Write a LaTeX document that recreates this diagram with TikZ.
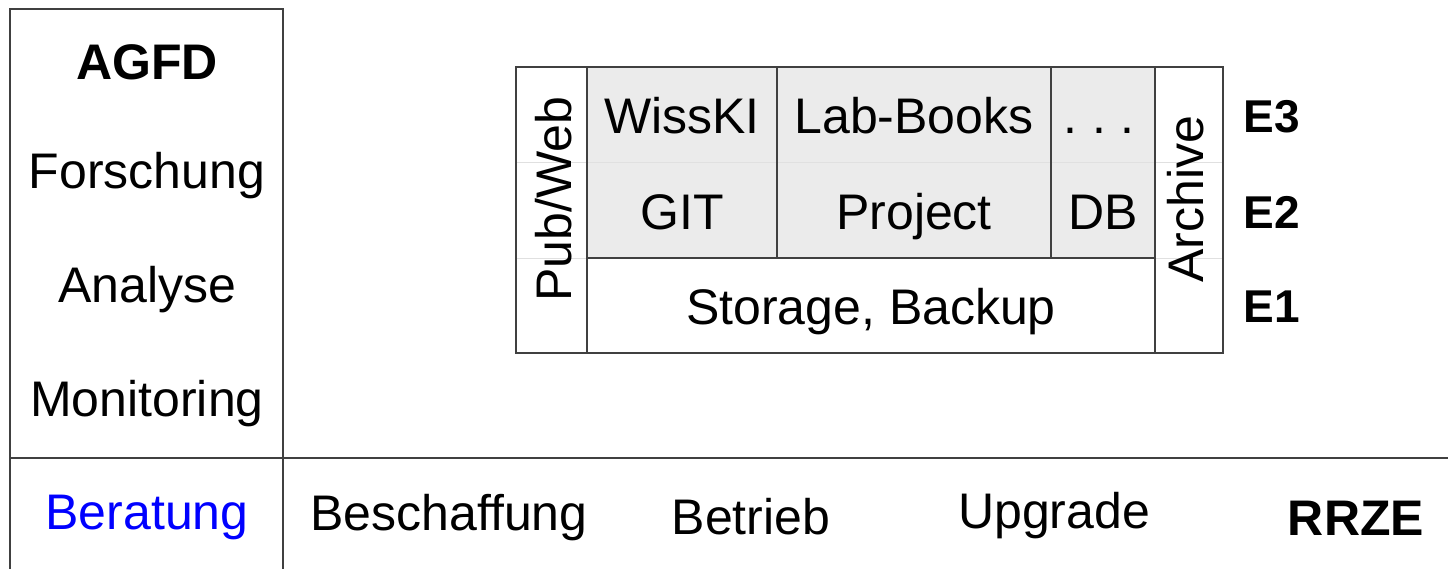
\documentclass[tikz,border=0pt]{standalone}
\usepackage{fontspec}
\setmainfont{Liberation Sans}
\begin{document}
\begin{tikzpicture}[x=1pt,y=-1pt,
  frame/.style={draw=black!75,line width=1.2pt},
  faint/.style={draw=black!12,line width=0.8pt},
  big/.style={inner sep=0pt,anchor=base,font=\fontsize{50}{60}\selectfont},
  bigb/.style={inner sep=0pt,anchor=base,font=\fontsize{50}{60}\selectfont\bfseries},
  elab/.style={inner sep=0pt,anchor=base,font=\fontsize{46}{55}\selectfont\bfseries}]
\useasboundingbox (0,0) rectangle (1448,569);
% left column and bottom band
\draw[frame] (10,569) -- (10,9) -- (283,9) -- (283,569);
\draw[frame] (10,458) -- (1448,458);
% grey block
\fill[black!8] (587,67) rectangle (1155,258);
\draw[faint] (587,162) -- (1155,162);
\draw[faint] (516,162) -- (587,162) (516,258) -- (587,258);
\draw[faint] (1155,162) -- (1223,162) (1155,258) -- (1223,258);
\draw[frame] (777,67) -- (777,258) (1051,67) -- (1051,258);
\draw[frame] (587,258) -- (1155,258);
\draw[frame] (516,67) rectangle (587,353);
\draw[frame] (587,67) rectangle (1155,353);
\draw[frame] (1155,67) rectangle (1223,353);
% left texts
\node[bigb] (agfd) at (147,80) {AGFD};
\node[big] (forsch) at (147,189) {Forschung};
\node[big] (analyse) at (147,302) {Analyse};
\node[big] (monit) at (147,416) {Monitoring};
% bottom texts
\node[big,text={rgb,255:red,0;green,0;blue,255}] (berat) at (147,529) {Beratung};
\node[big] (beschaff) at (449,530) {Beschaffung};
\node[big] (betrieb) at (751,534) {Betrieb};
\node[big] (upgrade) at (1054,528) {Upgrade};
\node[bigb] (rrze) at (1356,535) {RRZE};
% inner texts
\node[big,rotate=90] (pubweb) at (571,199) {Pub/Web};
\node[big,rotate=90] (archive) at (1203,199) {Archive};
\node[big] (wisski) at (682,134) {WissKI};
\node[big] (labbooks) at (914,134) {Lab-Books};
\node[big] (dots) at (1099,134) {.\kern15pt.\kern15pt.};
\node[big] (git) at (682,230) {GIT};
\node[big] (project) at (914,230) {Project};
\node[big] (db) at (1103,230) {DB};
\node[big] (storage) at (871,324) {Storage, Backup};
% level labels
\node[elab] (e3) at (1272,133) {E3};
\node[elab] (e2) at (1272,229) {E2};
\node[elab] (e1) at (1272,323) {E1};
\end{tikzpicture}
\end{document}
